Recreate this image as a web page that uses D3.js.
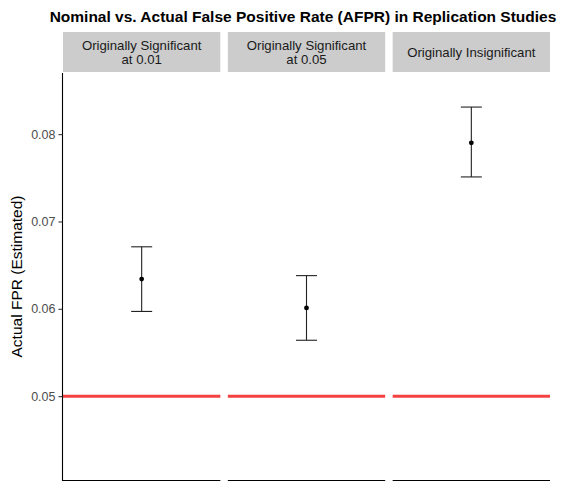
<!DOCTYPE html>
<html>
<head>
<meta charset="utf-8">
<script src="https://cdn.jsdelivr.net/npm/d3@7"></script>
<style>
  body { margin: 0; background: #fff; }
  svg { display: block; font-family: "Liberation Sans", Arial, Helvetica, sans-serif; }
</style>
</head>
<body>
<div id="chart"></div>
<script>
// panels and their estimates
var panels = ["Originally Significant\nat 0.01", "Originally Significant\nat 0.05", "Originally Insignificant"];
var estimate = [0.0634, 0.0601, 0.0790];
var lower = [0.0597, 0.0564, 0.0751];
var upper = [0.0671, 0.0638, 0.0831];
var nominal = 0.05;
var yTicks = [0.05, 0.06, 0.07, 0.08];

var W = 566, H = 483;
var margin = { top: 73, right: 16, bottom: 3, left: 63 },
    stripTop = 32;
var plotW = W - margin.left - margin.right;

var svg = d3.select("#chart").append("svg")
    .attr("width", W)
    .attr("height", H);

var xpanel = d3.scaleBand()
    .domain(panels)
    .range([margin.left, margin.left + plotW])
    .paddingInner(7.5 / 165)
    .paddingOuter(0);

var yscale = d3.scaleLinear()
    .domain([0.0404, 0.087])
    .range([H - margin.bottom, margin.top]);

// Title
svg.append("text")
    .attr("x", 303)
    .attr("y", 22)
    .attr("text-anchor", "middle")
    .style("font-weight", "bold")
    .style("font-size", "15.5px")
    .attr("fill", "#000")
    .text("Nominal vs. Actual False Positive Rate (AFPR) in Replication Studies");

var data = panels.map(function (p, i) {
    return { panel: p, est: estimate[i], lo: lower[i], hi: upper[i] };
});

var g = svg.selectAll(".panel")
    .data(data)
    .enter().append("g")
    .attr("class", "panel")
    .attr("transform", function (d) { return "translate(" + xpanel(d.panel) + ",0)"; });

var bw = xpanel.bandwidth();

// strips
g.append("rect")
    .attr("x", 0)
    .attr("y", stripTop)
    .attr("width", bw)
    .attr("height", margin.top - 1 - stripTop)
    .attr("fill", "#cccccc");

g.each(function (d) {
    var lines = d.panel.split("\n");
    var mid = (stripTop + margin.top - 1) / 2;
    var t = d3.select(this).append("text")
        .attr("text-anchor", "middle")
        .style("font-size", "13.2px")
        .attr("fill", "#1a1a1a");
    lines.forEach(function (l, k) {
        t.append("tspan")
            .attr("x", bw / 2)
            .attr("y", mid + 4.5 + (k - (lines.length - 1) / 2) * 14)
            .text(l);
    });
});

// nominal red line
g.append("line")
    .attr("x1", 0)
    .attr("x2", bw)
    .attr("y1", yscale(nominal))
    .attr("y2", yscale(nominal))
    .attr("stroke", "#f44242")
    .attr("stroke-width", 3);

// bottom axis line per panel
g.append("line")
    .attr("x1", 0)
    .attr("x2", bw)
    .attr("y1", H - margin.bottom + 0.5)
    .attr("y2", H - margin.bottom + 0.5)
    .attr("stroke", "#000")
    .attr("stroke-width", 1.1);

// error bars
var cap = 10.5;
g.append("line")
    .attr("x1", bw / 2).attr("x2", bw / 2)
    .attr("y1", function (d) { return yscale(d.lo); })
    .attr("y2", function (d) { return yscale(d.hi); })
    .attr("stroke", "#222").attr("stroke-width", 1.1);
g.append("line")
    .attr("x1", bw / 2 - cap).attr("x2", bw / 2 + cap)
    .attr("y1", function (d) { return yscale(d.hi); })
    .attr("y2", function (d) { return yscale(d.hi); })
    .attr("stroke", "#222").attr("stroke-width", 1.1);
g.append("line")
    .attr("x1", bw / 2 - cap).attr("x2", bw / 2 + cap)
    .attr("y1", function (d) { return yscale(d.lo); })
    .attr("y2", function (d) { return yscale(d.lo); })
    .attr("stroke", "#222").attr("stroke-width", 1.1);
g.append("circle")
    .attr("cx", bw / 2)
    .attr("cy", function (d) { return yscale(d.est); })
    .attr("r", 2.4)
    .attr("fill", "#000");

// y axis
var yAxis = svg.append("g")
    .attr("transform", "translate(" + (margin.left - 0.5) + ",0)")
    .call(d3.axisLeft(yscale).tickValues(yTicks).tickFormat(d3.format(".2f")).tickSize(4).tickPadding(3));
yAxis.select(".domain")
    .attr("d", "M0," + margin.top + "V" + (H - margin.bottom + 1))
    .attr("stroke-width", 1.1);
yAxis.selectAll(".tick line").attr("stroke", "#333").attr("stroke-width", 1.1);
yAxis.selectAll(".tick text")
    .style("font-size", "12.5px")
    .style("font-family", "Liberation Sans, Arial, sans-serif")
    .attr("fill", "#4d4d4d");

// Y label
svg.append("text")
    .attr("text-anchor", "middle")
    .attr("transform", "translate(22," + ((margin.top + H - margin.bottom) / 2) + ")rotate(-90)")
    .style("font-size", "15.5px")
    .attr("fill", "#000")
    .text("Actual FPR (Estimated)");
</script>
</body>
</html>
